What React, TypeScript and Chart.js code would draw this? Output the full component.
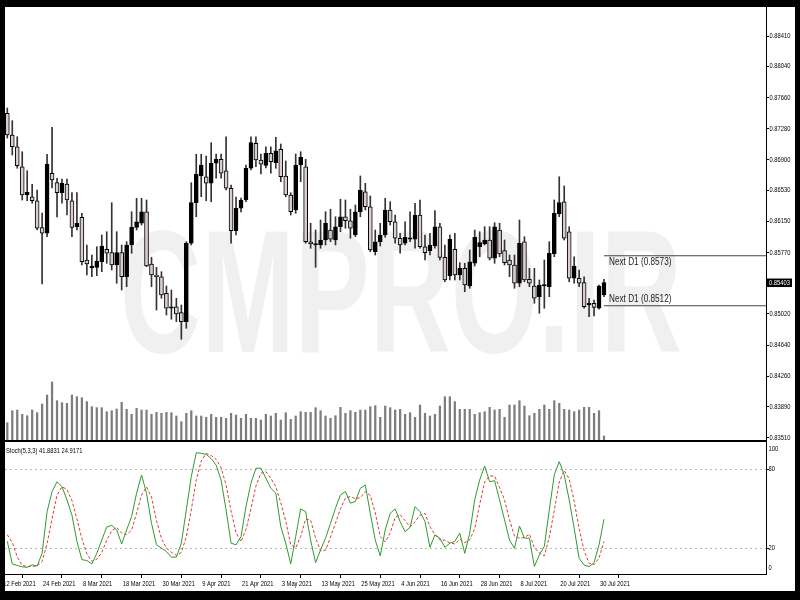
import React, { useEffect, useRef } from "react";
import { Chart, registerables } from "chart.js";

Chart.register(...registerables);

// ---- categories (trading days) ----
const febDays = [15, 16, 17, 18, 19, 22, 23, 24, 25, 26];
const marDays = [1, 2, 3, 4, 5, 8, 9, 10, 11, 12, 15, 16, 17, 18, 19, 22, 23, 24, 25, 26, 29, 30, 31];
const aprDays = [1, 2, 5, 6, 7, 8, 9, 12, 13, 14, 15, 16, 19, 20, 21, 22, 23, 26, 27, 28, 29, 30];
const mayDays = [3, 4, 5, 6, 7, 10, 11, 12, 13, 14, 17, 18, 19, 20, 21, 24, 25, 26, 27, 28, 31];
const junDays = [1, 2, 3, 4, 7, 8, 9, 10, 11, 14, 15, 16, 17, 18, 21, 22, 23, 24, 25, 28, 29, 30];
const julDays = [1, 2, 5, 6, 7, 8, 9, 12, 13, 14, 15, 16, 19, 20, 21, 22, 23, 26, 27, 28, 29, 30];
const augDays = [2];

const dates: string[] = [
  ...febDays.map((d) => `${d} Feb 2021`),
  ...marDays.map((d) => `${d} Mar 2021`),
  ...aprDays.map((d) => `${d} Apr 2021`),
  ...mayDays.map((d) => `${d} May 2021`),
  ...junDays.map((d) => `${d} Jun 2021`),
  ...julDays.map((d) => `${d} Jul 2021`),
  ...augDays.map((d) => `${d} Aug 2021`),
];

const dateTickLabels = [
  "12 Feb 2021", "24 Feb 2021", "8 Mar 2021", "18 Mar 2021", "30 Mar 2021", "9 Apr 2021",
  "21 Apr 2021", "3 May 2021", "13 May 2021", "25 May 2021", "4 Jun 2021", "16 Jun 2021",
  "28 Jun 2021", "8 Jul 2021", "20 Jul 2021", "30 Jul 2021",
];

// ---- price series ----
const openPrices = [
  0.87468, 0.87203, 0.87060, 0.86816, 0.86471, 0.86450, 0.86401, 0.86072, 0.86004, 0.86736,
  0.86621, 0.86499, 0.86605, 0.86401, 0.86084, 0.86199, 0.85678, 0.85585, 0.85589, 0.85657,
  0.85809, 0.85767, 0.85617, 0.85767, 0.85474, 0.85861, 0.86077, 0.86126, 0.86267, 0.85629,
  0.85495, 0.85474, 0.85272, 0.85089, 0.85108, 0.85035, 0.84925, 0.85882, 0.86377, 0.86703,
  0.86694, 0.86614, 0.86858, 0.86907, 0.86767, 0.86553, 0.86036, 0.86309, 0.86410, 0.86797,
  0.87102, 0.86898, 0.86833, 0.86980, 0.86865, 0.87029, 0.86703, 0.86471, 0.86288, 0.86837,
  0.86816, 0.85901, 0.85861, 0.85861, 0.85922, 0.86044, 0.85922, 0.86084, 0.86206, 0.86157,
  0.85983, 0.86267, 0.86511, 0.86328, 0.85779, 0.85901, 0.85983, 0.86288, 0.86145, 0.85943,
  0.85882, 0.85931, 0.85931, 0.86227, 0.85840, 0.85792, 0.85849, 0.86084, 0.85711, 0.85483,
  0.85809, 0.85495, 0.85577, 0.85361, 0.85638, 0.85840, 0.85873, 0.85922, 0.85699, 0.86044,
  0.85792, 0.85678, 0.85617, 0.85394, 0.85901, 0.85443, 0.85361, 0.85230, 0.85361, 0.85352,
  0.85751, 0.86239, 0.86389, 0.86023, 0.85455, 0.85455, 0.85401, 0.85129, 0.85150, 0.85089,
  0.85251,
];
const highPrices = [
  0.87532, 0.87378, 0.87182, 0.86999, 0.86767, 0.86602, 0.86532, 0.86251, 0.86968, 0.87297,
  0.86675, 0.86666, 0.86666, 0.86499, 0.86499, 0.86248, 0.85861, 0.85739, 0.85840, 0.85983,
  0.86023, 0.86377, 0.86023, 0.85861, 0.85901, 0.86267, 0.86431, 0.86431, 0.86410, 0.85711,
  0.85589, 0.85535, 0.85361, 0.85312, 0.85211, 0.85129, 0.85901, 0.86621, 0.86968, 0.86968,
  0.86947, 0.87109, 0.86971, 0.86971, 0.87182, 0.86593, 0.86447, 0.86434, 0.86837, 0.87182,
  0.87182, 0.86971, 0.87060, 0.87060, 0.87175, 0.87093, 0.86886, 0.86499, 0.86971, 0.86999,
  0.86907, 0.86126, 0.86044, 0.86166, 0.86267, 0.86297, 0.86206, 0.86419, 0.86410, 0.86297,
  0.86349, 0.86703, 0.86614, 0.86459, 0.86044, 0.86126, 0.86431, 0.86389, 0.86227, 0.86004,
  0.86145, 0.86267, 0.86370, 0.86410, 0.85983, 0.86004, 0.86280, 0.86126, 0.85861, 0.85983,
  0.86004, 0.85645, 0.85638, 0.85800, 0.86044, 0.86023, 0.86084, 0.86084, 0.86133, 0.86126,
  0.85922, 0.85739, 0.85739, 0.86166, 0.85962, 0.85577, 0.85577, 0.85434, 0.85678, 0.85901,
  0.86410, 0.86694, 0.86581, 0.86084, 0.85718, 0.85556, 0.85474, 0.85211, 0.85190, 0.85373,
  0.85443,
];
const lowPrices = [
  0.87166, 0.86959, 0.86797, 0.86410, 0.86401, 0.86370, 0.86044, 0.85385, 0.85962, 0.86556,
  0.86203, 0.86370, 0.86227, 0.85962, 0.86044, 0.85617, 0.85495, 0.85474, 0.85487, 0.85535,
  0.85638, 0.85556, 0.85394, 0.85312, 0.85352, 0.85760, 0.86044, 0.86105, 0.85596, 0.85352,
  0.85068, 0.85211, 0.85007, 0.84955, 0.84925, 0.84711, 0.84845, 0.85861, 0.86206, 0.86450,
  0.86401, 0.86389, 0.86675, 0.86675, 0.86532, 0.85882, 0.85983, 0.86264, 0.86389, 0.86776,
  0.86816, 0.86727, 0.86800, 0.86736, 0.86797, 0.86633, 0.86450, 0.86227, 0.86248, 0.86633,
  0.85882, 0.85821, 0.85589, 0.85821, 0.85861, 0.85901, 0.85861, 0.86023, 0.86065, 0.85943,
  0.85962, 0.86206, 0.86288, 0.85779, 0.85739, 0.85849, 0.85955, 0.86105, 0.85882, 0.85760,
  0.85861, 0.85901, 0.85821, 0.85821, 0.85678, 0.85739, 0.85821, 0.85678, 0.85413, 0.85434,
  0.85434, 0.85434, 0.85291, 0.85333, 0.85605, 0.85718, 0.85861, 0.85678, 0.85638, 0.85718,
  0.85617, 0.85474, 0.85333, 0.85352, 0.85413, 0.85352, 0.85150, 0.85028, 0.85089, 0.85230,
  0.85718, 0.86206, 0.85922, 0.85413, 0.85394, 0.85352, 0.85089, 0.84986, 0.84995, 0.85077,
  0.85230,
];
const closePrices = [
  0.87203, 0.87060, 0.86828, 0.86471, 0.86504, 0.86401, 0.86065, 0.86004, 0.86849, 0.86654,
  0.86499, 0.86614, 0.86410, 0.86077, 0.86126, 0.85657, 0.85629, 0.85593, 0.85666, 0.85849,
  0.85760, 0.85617, 0.85767, 0.85474, 0.85861, 0.86077, 0.86145, 0.86267, 0.85605, 0.85495,
  0.85474, 0.85251, 0.85089, 0.85108, 0.85019, 0.84925, 0.85882, 0.86377, 0.86727, 0.86837,
  0.86614, 0.86858, 0.86907, 0.86736, 0.86553, 0.86036, 0.86309, 0.86410, 0.86797, 0.87109,
  0.86898, 0.86846, 0.86980, 0.86877, 0.87011, 0.86694, 0.86471, 0.86267, 0.86837, 0.86931,
  0.85901, 0.85873, 0.85873, 0.85922, 0.86126, 0.85931, 0.86084, 0.86206, 0.86157, 0.86065,
  0.86267, 0.86532, 0.86328, 0.85800, 0.85901, 0.85983, 0.86288, 0.86145, 0.85943, 0.85861,
  0.85955, 0.85943, 0.86227, 0.85840, 0.85767, 0.85861, 0.86084, 0.85711, 0.85434, 0.85931,
  0.85495, 0.85577, 0.85373, 0.85657, 0.85955, 0.85889, 0.85922, 0.85699, 0.86084, 0.85751,
  0.85645, 0.85617, 0.85394, 0.85882, 0.85434, 0.85394, 0.85211, 0.85373, 0.85373, 0.85760,
  0.86248, 0.86377, 0.85943, 0.85455, 0.85605, 0.85394, 0.85108, 0.85150, 0.85101, 0.85361,
  0.85403,
];
const volumes = [
  1730, 2930, 3000, 2570, 2430, 3000, 2730, 3600, 4500, 5800,
  3930, 3730, 3670, 4500, 4330, 4230, 3830, 3330, 3230, 3230,
  2830, 2930, 3100, 3770, 3070, 2570, 3170, 3000, 3000, 2570,
  2770, 2670, 2770, 2730, 2400, 1830, 2670, 2930, 2400, 2400,
  2270, 2570, 2270, 2270, 2170, 2670, 2500, 2170, 2570, 2170,
  2170, 2000, 2570, 2400, 2670, 2000, 2730, 2070, 2400, 2830,
  2770, 2770, 3230, 2930, 2400, 2170, 2430, 3270, 2670, 2930,
  2770, 3000, 3000, 3330, 3430, 2270, 3400, 3230, 3000, 3070,
  2570, 2730, 2270, 3500, 2670, 2400, 2570, 3400, 4330, 4330,
  3830, 3070, 3070, 3070, 2570, 2730, 2830, 3270, 3000, 3070,
  2270, 3500, 3500, 3930, 3400, 2430, 2670, 3070, 3500, 3070,
  3930, 3670, 3070, 3000, 2830, 3000, 3270, 3270, 2670, 2930,
  400,
];
const stochK = [
  25, 7.7, 6.5, 5.5, 5.1, 7.0, 6.1, 15.8, 47.7, 63,
  70.6, 66.8, 56.7, 45, 25, 11, 10.3, 7.7, 15.8, 26,
  36, 37.2, 33.7, 23, 33.7, 44, 61.8, 75.8, 61.8, 38.8,
  22.3, 19.8, 17.2, 12.9, 12.9, 23.6, 49, 74.5, 92.8, 92.3,
  91.5, 88.4, 83.3, 71.9, 49, 23.6, 22.3, 28.6, 51.5, 69.4,
  80.9, 80.9, 73.2, 65.6, 61.8, 36.2, 23.6, 7.7, 28.6, 49.8,
  47.7, 26, 8.7, 18.5, 27.4, 38.8, 50.3, 60.5, 63.1, 54.2,
  55.5, 65.6, 68.1, 46.4, 26, 13.8, 33.7, 46.4, 49.8, 40.1,
  32.4, 35.7, 51.5, 47.7, 40.1, 20.4, 29.9, 27.4, 20.4, 23.6,
  24.9, 31.3, 15.8, 31.3, 56.7, 71.9, 82.6, 70.6, 71.4, 56.7,
  41.4, 26, 19.6, 36.7, 27.4, 27.4, 5.8, 14.7, 21.1, 49,
  75.8, 86, 75.8, 56.7, 35, 12, 6.9, 5.6, 8.7, 22.3,
  41.8831,
];
const stochD = [
  30, 24.2, 13.1, 6.6, 5.7, 5.9, 6.1, 9.6, 23.2, 42.2,
  60.4, 66.8, 64.7, 56.2, 42.2, 27, 15.4, 9.7, 11.3, 16.5,
  25.9, 33.1, 35.6, 31.3, 30.1, 33.6, 46.5, 60.5, 66.5, 58.8,
  41, 27, 19.8, 16.6, 14.3, 16.5, 28.5, 49, 72.1, 86.5,
  92.2, 90.7, 87.7, 81.2, 68.1, 48.2, 31.6, 24.8, 34.1, 49.8,
  67.3, 77.1, 78.3, 73.2, 66.9, 54.5, 40.5, 22.5, 20, 28.7,
  42, 41.2, 27.5, 17.7, 18.2, 28.2, 38.8, 49.9, 58, 59.3,
  57.6, 58.4, 63.1, 60, 46.8, 28.7, 24.5, 31.3, 43.3, 45.4,
  40.8, 36.1, 39.9, 45, 46.4, 36.1, 30.1, 25.9, 25.9, 23.8,
  23, 26.6, 24, 26.1, 34.6, 53.3, 70.4, 75, 74.9, 66.2,
  56.5, 41.4, 29, 27.4, 27.9, 30.5, 20.2, 16, 13.9, 28.3,
  48.6, 70.3, 79.2, 72.8, 55.8, 34.6, 18, 8.2, 7.1, 12.2,
  24.9171,
];

const priceTicks = [
  0.8841, 0.8804, 0.8766, 0.8728, 0.869, 0.8653, 0.8615, 0.8577, 0.8502, 0.8464, 0.8426, 0.8389, 0.8351,
];
const stochLevels = [0, 20, 80, 100];
const nextD1Levels = [0.8573, 0.8512];

const BASE_FONT = '"Liberation Sans", Arial, "DejaVu Sans", sans-serif';

const X_MIN = -0.4625;
const X_MAX = 152.58;
const P_MIN = 0.818472;
const P_MAX = 0.887646;

// draws text horizontally condensed (narrow face emulation)
function narrowText(
  ctx: CanvasRenderingContext2D,
  text: string,
  x: number,
  y: number,
  size: number,
  color: string,
  k = 0.77
) {
  ctx.save();
  ctx.font = `${size}px ${BASE_FONT}`;
  ctx.fillStyle = color;
  ctx.textAlign = "left";
  ctx.textBaseline = "middle";
  ctx.translate(x, y);
  ctx.scale(k, 1);
  ctx.fillText(text, 0, 0);
  ctx.restore();
}

const decorPlugin = {
  id: "decor",
  beforeDatasetsDraw(chart: any) {
    const { ctx, chartArea } = chart;
    const ys = chart.scales.ys;
    ctx.save();
    // watermark
    ctx.font = `bold 174px ${BASE_FONT}`;
    const text = "CMPRO.IR";
    const w = ctx.measureText(text).width;
    ctx.translate(120, 352);
    ctx.scale(562 / w, 1);
    ctx.fillStyle = "#f0f0f0";
    ctx.textBaseline = "alphabetic";
    ctx.textAlign = "left";
    ctx.fillText(text, 0, 0);
    ctx.restore();

    // stochastic level lines
    ctx.save();
    ctx.strokeStyle = "#b8b8b8";
    ctx.lineWidth = 1;
    ctx.setLineDash([2, 3]);
    [20, 80].forEach((lv) => {
      const py = Math.round(ys.getPixelForValue(lv)) + 0.5;
      ctx.beginPath();
      ctx.moveTo(chartArea.left, py);
      ctx.lineTo(chartArea.right, py);
      ctx.stroke();
    });
    ctx.restore();
  },
  afterDraw(chart: any) {
    const { ctx, chartArea } = chart;
    const ys = chart.scales.ys;
    const y = chart.scales.y;
    const x = chart.scales.x;
    ctx.save();
    // separator between price and oscillator panes
    ctx.fillStyle = "#000";
    ctx.fillRect(chartArea.left, 440, chartArea.right - chartArea.left, 2);

    // price axis labels
    priceTicks.forEach((v) => {
      narrowText(ctx, v.toFixed(5), chartArea.right + 3.5, y.getPixelForValue(v), 7.5, "#000");
    });

    // date axis labels
    x.ticks.forEach((t: any, i: number) => {
      const label = dateTickLabels[i];
      if (label) narrowText(ctx, label, x.getPixelForValue(t.value) + 1, chartArea.bottom + 10, 7.5, "#000");
    });

    // oscillator header
    const kLast = stochK[stochK.length - 1].toFixed(4);
    const dLast = stochD[stochD.length - 1].toFixed(4);
    narrowText(ctx, `Stoch(5,3,3) ${kLast} ${dLast}`, 6, 451, 7.5, "#000");

    // oscillator axis labels
    stochLevels.forEach((lv) => {
      let py = ys.getPixelForValue(lv);
      if (lv === 100) py += 6;
      if (lv === 0) py -= 6;
      narrowText(ctx, String(lv), chartArea.right + 2.5, py, 7.5, "#000");
      if (lv === 20 || lv === 80) {
        ctx.fillStyle = "#000";
        ctx.fillRect(chartArea.right, Math.round(py), 3, 1);
      }
    });

    // Next D1 labels
    nextD1Levels.forEach((lv, k) => {
      const py = y.getPixelForValue(lv);
      narrowText(ctx, `Next D1 (${lv.toFixed(4)})`, 609, k === 0 ? py + 7 : py - 6, 10, "#222", 0.82);
    });

    // current price box
    const last = closePrices[closePrices.length - 1];
    const cy = y.getPixelForValue(last);
    ctx.fillStyle = "#000";
    ctx.fillRect(chartArea.right + 1, cy - 4, 25, 8.5);
    narrowText(ctx, last.toFixed(5), chartArea.right + 3, cy + 0.5, 7.5, "#fff");

    // black frame
    ctx.fillStyle = "#000";
    ctx.fillRect(0, 0, 800, 7);
    ctx.fillRect(0, 0, 5, 600);
    ctx.fillRect(0, 591, 800, 9);
    ctx.fillRect(795, 0, 5, 600);
    ctx.restore();
  },
};

export default function App() {
  const ref = useRef<HTMLCanvasElement>(null);

  useEffect(() => {
    const canvas = ref.current;
    if (!canvas) return;
    const idx = dates.map((_, i) => i);
    const bodyColors = idx.map((i) => (closePrices[i] >= openPrices[i] ? "#000000" : "#dacdcd"));
    const tickIndex = dateTickLabels.map((d) => dates.indexOf(d));

    const chart = new Chart(canvas, {
      type: "bar",
      data: {
        datasets: [
          {
            type: "bar",
            label: "Volume",
            data: idx.map((i) => ({ x: i, y: volumes[i] })),
            yAxisID: "yv",
            backgroundColor: "#7d7d7d",
            barThickness: 1.6,
            grouped: false,
            order: 4,
          } as any,
          {
            type: "bar",
            label: "Wick",
            data: idx.map((i) => ({ x: i, y: [lowPrices[i], highPrices[i]] })),
            yAxisID: "y",
            backgroundColor: "#333333",
            barThickness: 1,
            grouped: false,
            order: 3,
          } as any,
          {
            type: "bar",
            label: "Body",
            data: idx.map((i) => ({ x: i, y: [openPrices[i], closePrices[i]] })),
            yAxisID: "y",
            backgroundColor: bodyColors,
            borderColor: "#000000",
            borderWidth: 1,
            borderSkipped: false,
            barThickness: 4,
            minBarLength: 1.5,
            grouped: false,
            order: 2,
          } as any,
          ...nextD1Levels.map((lv) => ({
            type: "line",
            label: `Next D1 ${lv}`,
            data: [
              { x: dates.length - 1, y: lv },
              { x: X_MAX, y: lv },
            ],
            yAxisID: "y",
            borderColor: "#444444",
            borderWidth: 1.2,
            pointRadius: 0,
            order: 1,
          })) as any,
          {
            type: "line",
            label: "%K",
            data: idx.map((i) => ({ x: i, y: stochK[i] })),
            yAxisID: "ys",
            borderColor: "#2f9a2f",
            borderWidth: 1,
            pointRadius: 0,
            tension: 0,
            order: 0,
          } as any,
          {
            type: "line",
            label: "%D",
            data: idx.map((i) => ({ x: i, y: stochD[i] })),
            yAxisID: "ys",
            borderColor: "#e23a3a",
            borderWidth: 1,
            borderDash: [3, 2],
            pointRadius: 0,
            tension: 0,
            order: 0,
          } as any,
        ],
      },
      options: {
        responsive: false,
        animation: false,
        devicePixelRatio: 1,
        layout: { padding: { left: 5, top: 7, right: 0, bottom: 0 } },
        plugins: { legend: { display: false }, tooltip: { enabled: false } },
        scales: {
          x: {
            type: "linear",
            position: "bottom",
            min: X_MIN,
            max: X_MAX,
            offset: false,
            grid: { drawOnChartArea: false, drawTicks: true, tickLength: 4, color: "#000" },
            border: { display: true, color: "#000", width: 1 },
            ticks: { display: false, autoSkip: false, maxRotation: 0 },
            afterBuildTicks: (s: any) => {
              s.ticks = tickIndex.map((v) => ({ value: v }));
            },
            afterFit: (s: any) => {
              s.height = 26;
            },
          },
          y: {
            type: "linear",
            position: "right",
            min: P_MIN,
            max: P_MAX,
            grid: { drawOnChartArea: false, drawTicks: true, tickLength: 3, color: "#000" },
            border: { display: true, color: "#000", width: 1 },
            ticks: { display: false },
            afterBuildTicks: (s: any) => {
              s.ticks = priceTicks.map((v) => ({ value: v }));
            },
            afterFit: (s: any) => {
              s.width = 34;
            },
          },
          yv: { type: "linear", display: false, min: -13400, max: 43300 },
          ys: { type: "linear", display: false, min: 0, max: 433.8 },
        },
      } as any,
      plugins: [decorPlugin],
    });

    return () => chart.destroy();
  }, []);

  return (
    <div style={{ position: "fixed", left: 0, top: 0, width: 800, height: 600, background: "#fff" }}>
      <canvas ref={ref} width={800} height={600} style={{ width: 800, height: 600, display: "block" }} />
    </div>
  );
}
